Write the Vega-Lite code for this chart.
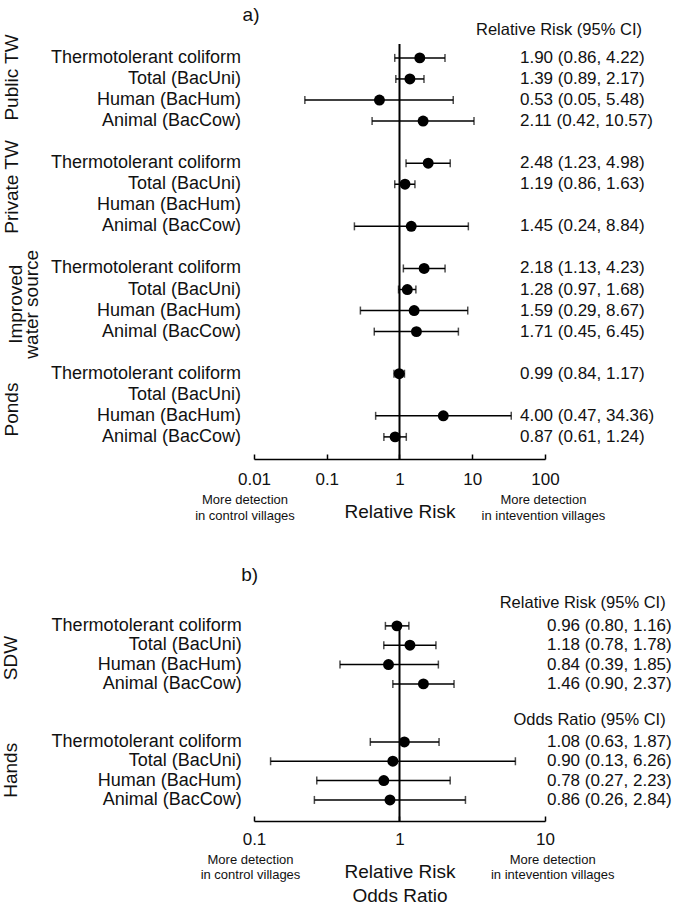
{
  "$schema": "https://vega.github.io/schema/vega-lite/v6.json",
  "padding": {"left": 1, "top": 5, "right": 0, "bottom": 0},
  "background": "white",
  "config": {
    "view": {"stroke": null},
    "font": "Liberation Sans",
    "text": {"font": "Liberation Sans", "color": "#111111"},
    "axis": {"labelFont": "Liberation Sans", "titleFont": "Liberation Sans"}
  },
  "datasets": {
    "a": [
      {"group": "Public TW", "marker": "Thermotolerant coliform", "row": 0, "est": 1.90, "lo": 0.86, "hi": 4.22, "ci": "1.90 (0.86, 4.22)"},
      {"group": "Public TW", "marker": "Total (BacUni)", "row": 1, "est": 1.39, "lo": 0.89, "hi": 2.17, "ci": "1.39 (0.89, 2.17)"},
      {"group": "Public TW", "marker": "Human (BacHum)", "row": 2, "est": 0.53, "lo": 0.05, "hi": 5.48, "ci": "0.53 (0.05, 5.48)"},
      {"group": "Public TW", "marker": "Animal (BacCow)", "row": 3, "est": 2.11, "lo": 0.42, "hi": 10.57, "ci": "2.11 (0.42, 10.57)"},
      {"group": "Private TW", "marker": "Thermotolerant coliform", "row": 5, "est": 2.48, "lo": 1.23, "hi": 4.98, "ci": "2.48 (1.23, 4.98)"},
      {"group": "Private TW", "marker": "Total (BacUni)", "row": 6, "est": 1.19, "lo": 0.86, "hi": 1.63, "ci": "1.19 (0.86, 1.63)"},
      {"group": "Private TW", "marker": "Human (BacHum)", "row": 7, "est": null, "lo": null, "hi": null, "ci": null},
      {"group": "Private TW", "marker": "Animal (BacCow)", "row": 8, "est": 1.45, "lo": 0.24, "hi": 8.84, "ci": "1.45 (0.24, 8.84)"},
      {"group": "Improved water source", "marker": "Thermotolerant coliform", "row": 10, "est": 2.18, "lo": 1.13, "hi": 4.23, "ci": "2.18 (1.13, 4.23)"},
      {"group": "Improved water source", "marker": "Total (BacUni)", "row": 11, "est": 1.28, "lo": 0.97, "hi": 1.68, "ci": "1.28 (0.97, 1.68)"},
      {"group": "Improved water source", "marker": "Human (BacHum)", "row": 12, "est": 1.59, "lo": 0.29, "hi": 8.67, "ci": "1.59 (0.29, 8.67)"},
      {"group": "Improved water source", "marker": "Animal (BacCow)", "row": 13, "est": 1.71, "lo": 0.45, "hi": 6.45, "ci": "1.71 (0.45, 6.45)"},
      {"group": "Ponds", "marker": "Thermotolerant coliform", "row": 15, "est": 0.99, "lo": 0.84, "hi": 1.17, "ci": "0.99 (0.84, 1.17)"},
      {"group": "Ponds", "marker": "Total (BacUni)", "row": 16, "est": null, "lo": null, "hi": null, "ci": null},
      {"group": "Ponds", "marker": "Human (BacHum)", "row": 17, "est": 4.00, "lo": 0.47, "hi": 34.36, "ci": "4.00 (0.47, 34.36)"},
      {"group": "Ponds", "marker": "Animal (BacCow)", "row": 18, "est": 0.87, "lo": 0.61, "hi": 1.24, "ci": "0.87 (0.61, 1.24)"}
    ],
    "b": [
      {"group": "SDW", "marker": "Thermotolerant coliform", "row": 0, "est": 0.96, "lo": 0.80, "hi": 1.16, "ci": "0.96 (0.80, 1.16)"},
      {"group": "SDW", "marker": "Total (BacUni)", "row": 1, "est": 1.18, "lo": 0.78, "hi": 1.78, "ci": "1.18 (0.78, 1.78)"},
      {"group": "SDW", "marker": "Human (BacHum)", "row": 2, "est": 0.84, "lo": 0.39, "hi": 1.85, "ci": "0.84 (0.39, 1.85)"},
      {"group": "SDW", "marker": "Animal (BacCow)", "row": 3, "est": 1.46, "lo": 0.90, "hi": 2.37, "ci": "1.46 (0.90, 2.37)"},
      {"group": "Hands", "marker": "Thermotolerant coliform", "row": 6, "est": 1.08, "lo": 0.63, "hi": 1.87, "ci": "1.08 (0.63, 1.87)"},
      {"group": "Hands", "marker": "Total (BacUni)", "row": 7, "est": 0.90, "lo": 0.13, "hi": 6.26, "ci": "0.90 (0.13, 6.26)"},
      {"group": "Hands", "marker": "Human (BacHum)", "row": 8, "est": 0.78, "lo": 0.27, "hi": 2.23, "ci": "0.78 (0.27, 2.23)"},
      {"group": "Hands", "marker": "Animal (BacCow)", "row": 9, "est": 0.86, "lo": 0.26, "hi": 2.84, "ci": "0.86 (0.26, 2.84)"}
    ]
  },
  "spacing": 163,
  "bounds": "flush",
  "vconcat": [
    {
      "width": 291,
      "height": 415,
      "data": {"name": "a"},
      "layer": [
        {
          "data": {"values": [{}]},
          "mark": {"type": "rule", "color": "black", "strokeWidth": 2},
          "encoding": {"x": {"datum": 1, "type": "quantitative"}}
        },
        {
          "mark": {"type": "rule", "color": "black", "strokeWidth": 1.5},
          "encoding": {
            "x": {"field": "lo", "type": "quantitative", "scale": {"type": "log", "domain": [0.01, 100], "nice": false},
              "axis": {"values": [0.01, 0.1, 1, 10, 100], "format": "~g", "title": "Relative Risk", "grid": false,
                "domainColor": "black", "domainWidth": 1.5, "tickColor": "black", "tickWidth": 1.5, "tickSize": -5,
                "labelFontSize": 17, "labelColor": "#111111", "labelPadding": 17, "labelFlush": false, "labelOverlap": false,
                "titleFontSize": 19, "titleFontWeight": "normal", "titleColor": "#111111", "titlePadding": 15}},
            "x2": {"field": "hi"},
            "y": {"field": "row", "type": "quantitative", "scale": {"domain": [-0.66, 19.05], "reverse": true, "nice": false, "zero": false}, "axis": null}
          }
        },
        {
          "mark": {"type": "tick", "orient": "vertical", "color": "black", "size": 8, "thickness": 1.5},
          "encoding": {
            "x": {"field": "lo", "type": "quantitative"},
            "y": {"field": "row", "type": "quantitative"}
          }
        },
        {
          "mark": {"type": "tick", "orient": "vertical", "color": "black", "size": 8, "thickness": 1.5},
          "encoding": {
            "x": {"field": "hi", "type": "quantitative"},
            "y": {"field": "row", "type": "quantitative"}
          }
        },
        {
          "mark": {"type": "point", "shape": "circle", "filled": true, "size": 120, "color": "black", "opacity": 1},
          "encoding": {
            "x": {"field": "est", "type": "quantitative"},
            "y": {"field": "row", "type": "quantitative"}
          }
        },
        {
          "transform": [{"filter": "isValid(datum.ci)"}],
          "mark": {"type": "text", "align": "left", "baseline": "middle", "fontSize": 17},
          "encoding": {
            "x": {"datum": 45.3, "type": "quantitative"},
            "y": {"field": "row", "type": "quantitative"},
            "text": {"field": "ci"}
          }
        },
        {
          "mark": {"type": "text", "align": "right", "baseline": "middle", "fontSize": 18},
          "encoding": {
            "x": {"datum": 0.00663, "type": "quantitative"},
            "y": {"field": "row", "type": "quantitative"},
            "text": {"field": "marker"}
          }
        },
        {
          "data": {"values": [{}]},
          "mark": {"type": "text", "align": "center", "baseline": "middle", "fontSize": 19, "angle": 270},
          "encoding": {"x": {"datum": 0.000004715, "type": "quantitative"}, "y": {"datum": 0.93, "type": "quantitative"}, "text": {"value": "Public TW"}}
        },
        {
          "data": {"values": [{}]},
          "mark": {"type": "text", "align": "center", "baseline": "middle", "fontSize": 19, "angle": 270},
          "encoding": {"x": {"datum": 0.000004715, "type": "quantitative"}, "y": {"datum": 6.13, "type": "quantitative"}, "text": {"value": "Private TW"}}
        },
        {
          "data": {"values": [{}]},
          "mark": {"type": "text", "align": "center", "baseline": "middle", "fontSize": 19, "angle": 270, "lineHeight": 16},
          "encoding": {"x": {"datum": 0.00000532, "type": "quantitative"}, "y": {"datum": 11.7, "type": "quantitative"}, "text": {"value": ["Improved", "water source"]}}
        },
        {
          "data": {"values": [{}]},
          "mark": {"type": "text", "align": "center", "baseline": "middle", "fontSize": 19, "angle": 270},
          "encoding": {"x": {"datum": 0.000004715, "type": "quantitative"}, "y": {"datum": 16.7, "type": "quantitative"}, "text": {"value": "Ponds"}}
        },
        {
          "data": {"values": [{}]},
          "mark": {"type": "text", "align": "center", "baseline": "middle", "fontSize": 19},
          "encoding": {"x": {"datum": 0.0091, "type": "quantitative"}, "y": {"datum": -2.04, "type": "quantitative"}, "text": {"value": "a)"}}
        },
        {
          "data": {"values": [{}]},
          "mark": {"type": "text", "align": "left", "baseline": "middle", "fontSize": 16.5},
          "encoding": {"x": {"datum": 11.26, "type": "quantitative"}, "y": {"datum": -1.32, "type": "quantitative"}, "text": {"value": "Relative Risk (95% CI)"}}
        },
        {
          "data": {"values": [{}]},
          "mark": {"type": "text", "align": "center", "baseline": "middle", "fontSize": 13, "lineHeight": 16},
          "encoding": {"x": {"datum": 0.00752, "type": "quantitative"}, "y": {"datum": 20.99, "type": "quantitative"}, "text": {"value": ["More detection", "in control villages"]}}
        },
        {
          "data": {"values": [{}]},
          "mark": {"type": "text", "align": "center", "baseline": "middle", "fontSize": 13, "lineHeight": 16},
          "encoding": {"x": {"datum": 95, "type": "quantitative"}, "y": {"datum": 20.99, "type": "quantitative"}, "text": {"value": ["More detection", "in intevention villages"]}}
        }
      ]
    },
    {
      "width": 291,
      "height": 199,
      "data": {"name": "b"},
      "layer": [
        {
          "data": {"values": [{}]},
          "mark": {"type": "rule", "color": "black", "strokeWidth": 2},
          "encoding": {"x": {"datum": 1, "type": "quantitative"}}
        },
        {
          "mark": {"type": "rule", "color": "black", "strokeWidth": 1.5},
          "encoding": {
            "x": {"field": "lo", "type": "quantitative", "scale": {"type": "log", "domain": [0.1, 10], "nice": false},
              "axis": {"values": [0.1, 1, 10], "format": "~g", "title": ["Relative Risk", "Odds Ratio"], "grid": false,
                "domainColor": "black", "domainWidth": 1.5, "tickColor": "black", "tickWidth": 1.5, "tickSize": -5,
                "labelFontSize": 17, "labelColor": "#111111", "labelPadding": 15.5, "labelFlush": false, "labelOverlap": false,
                "titleFontSize": 19, "titleFontWeight": "normal", "titleColor": "#111111", "titlePadding": 15, "titleLineHeight": 24}},
            "x2": {"field": "hi"},
            "y": {"field": "row", "type": "quantitative", "scale": {"domain": [-0.2, 10.09], "reverse": true, "nice": false, "zero": false}, "axis": null}
          }
        },
        {
          "mark": {"type": "tick", "orient": "vertical", "color": "black", "size": 8, "thickness": 1.5},
          "encoding": {
            "x": {"field": "lo", "type": "quantitative"},
            "y": {"field": "row", "type": "quantitative"}
          }
        },
        {
          "mark": {"type": "tick", "orient": "vertical", "color": "black", "size": 8, "thickness": 1.5},
          "encoding": {
            "x": {"field": "hi", "type": "quantitative"},
            "y": {"field": "row", "type": "quantitative"}
          }
        },
        {
          "mark": {"type": "point", "shape": "circle", "filled": true, "size": 120, "color": "black", "opacity": 1},
          "encoding": {
            "x": {"field": "est", "type": "quantitative"},
            "y": {"field": "row", "type": "quantitative"}
          }
        },
        {
          "mark": {"type": "text", "align": "right", "baseline": "middle", "fontSize": 17},
          "encoding": {
            "x": {"datum": 74.3, "type": "quantitative"},
            "y": {"field": "row", "type": "quantitative"},
            "text": {"field": "ci"}
          }
        },
        {
          "mark": {"type": "text", "align": "right", "baseline": "middle", "fontSize": 18},
          "encoding": {
            "x": {"datum": 0.0823, "type": "quantitative"},
            "y": {"field": "row", "type": "quantitative"},
            "text": {"field": "marker"}
          }
        },
        {
          "data": {"values": [{}]},
          "mark": {"type": "text", "align": "center", "baseline": "middle", "fontSize": 19, "angle": 270},
          "encoding": {"x": {"datum": 0.002128, "type": "quantitative"}, "y": {"datum": 1.66, "type": "quantitative"}, "text": {"value": "SDW"}}
        },
        {
          "data": {"values": [{}]},
          "mark": {"type": "text", "align": "center", "baseline": "middle", "fontSize": 19, "angle": 270},
          "encoding": {"x": {"datum": 0.002128, "type": "quantitative"}, "y": {"datum": 7.47, "type": "quantitative"}, "text": {"value": "Hands"}}
        },
        {
          "data": {"values": [{}]},
          "mark": {"type": "text", "align": "center", "baseline": "middle", "fontSize": 19},
          "encoding": {"x": {"datum": 0.0934, "type": "quantitative"}, "y": {"datum": -2.64, "type": "quantitative"}, "text": {"value": "b)"}}
        },
        {
          "data": {"values": [{}]},
          "mark": {"type": "text", "align": "right", "baseline": "middle", "fontSize": 16.5},
          "encoding": {"x": {"datum": 67.5, "type": "quantitative"}, "y": {"datum": -1.19, "type": "quantitative"}, "text": {"value": "Relative Risk (95% CI)"}}
        },
        {
          "data": {"values": [{}]},
          "mark": {"type": "text", "align": "right", "baseline": "middle", "fontSize": 16.5},
          "encoding": {"x": {"datum": 67.5, "type": "quantitative"}, "y": {"datum": 4.86, "type": "quantitative"}, "text": {"value": "Odds Ratio (95% CI)"}}
        },
        {
          "data": {"values": [{}]},
          "mark": {"type": "text", "align": "center", "baseline": "middle", "fontSize": 13, "lineHeight": 15},
          "encoding": {"x": {"datum": 0.0946, "type": "quantitative"}, "y": {"datum": 12.1, "type": "quantitative"}, "text": {"value": ["More detection", "in control villages"]}}
        },
        {
          "data": {"values": [{}]},
          "mark": {"type": "text", "align": "center", "baseline": "middle", "fontSize": 13, "lineHeight": 15},
          "encoding": {"x": {"datum": 11.3, "type": "quantitative"}, "y": {"datum": 12.1, "type": "quantitative"}, "text": {"value": ["More detection", "in intevention villages"]}}
        }
      ]
    }
  ]
}
